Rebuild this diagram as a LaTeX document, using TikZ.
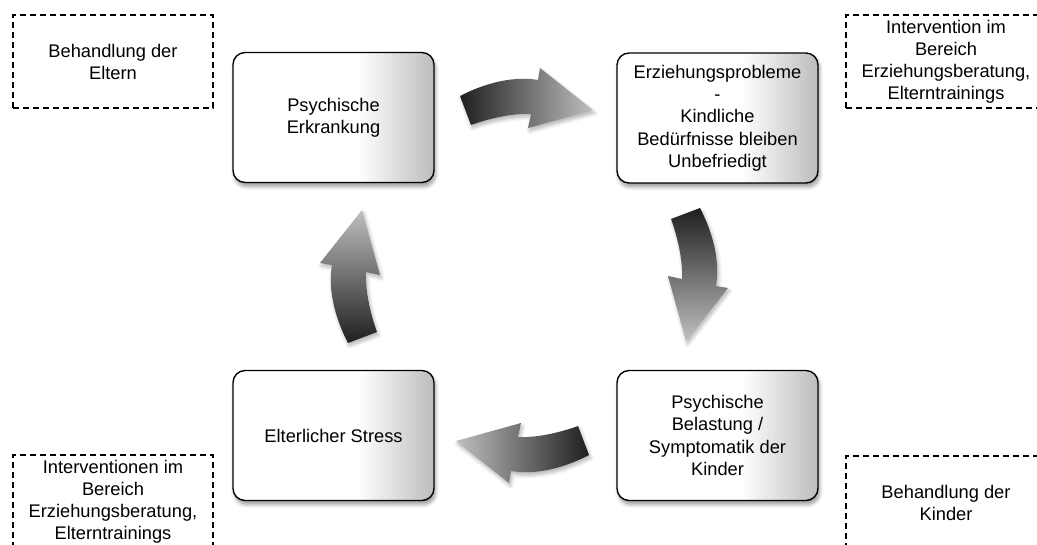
\documentclass[tikz,border=0pt]{standalone}
\usepackage{fontspec}
\setmainfont{Liberation Sans}
\usetikzlibrary{calc}
\usetikzlibrary{shadows.blur}
\pgfdeclarehorizontalshading{boxfade}{100bp}{color(0bp)=(white); color(56bp)=(white); color(75bp)=(black!26); color(100bp)=(black!26)}
\tikzset{
  cbox/.style= {draw, thick, rounded corners=0.24cm, shade, shading=boxfade, minimum width=4.02cm, minimum height=2.6cm, inner sep=0, align=center, font=\fontsize{10.4}{12.7}\selectfont, blur shadow={shadow xshift=0.03cm, shadow yshift=-0.08cm, shadow blur steps=6, shadow opacity=40}},
  dbox/.style= {draw, line width=0.7pt, dash pattern=on 0.12cm off 0.08cm, minimum width=4cm, minimum height=1.86cm, inner sep=0, align=center, font=\fontsize{10.4}{12.5}\selectfont},
  blockarrow/.pic= {
    \shade [#1, blur shadow={shadow xshift=0.03cm, shadow yshift=-0.06cm, shadow blur steps=5, shadow opacity=30}]
      (-67,-2) .. controls (-40,-16) and (-12,-22) .. (11,-18) -- (13,-30) -- (66,12) -- (1,30) -- (4,16)
      .. controls (-13,15) and (-37,20) .. (-56,27) -- cycle ;
  },
}

\begin{document}
\begin{tikzpicture}[x=0.02cm, y=-0.02cm]
  \useasboundingbox (0,0) rectangle (1037,544) ;
  \clip (0,0) rectangle (1037,544) ;

  \node [cbox] (pe) at (333.5,117.5) {Psychische\\Erkrankung} ;
  \node [cbox] (ep) at (717.5,118) {Erziehungsprobleme\\-\\Kindliche\\Bedürfnisse bleiben\\Unbefriedigt} ;
  \node [cbox] (bk) at (717.5,435.5) {Psychische\\Belastung /\\Symptomatik der\\Kinder} ;
  \node [cbox] (es) at (333.5,435.5) {Elterlicher Stress} ;

  \node [dbox] (he) at (113,61.5) {Behandlung der\\Eltern} ;
  \node [dbox] (ie) at (946,61.5) {Intervention im\\Bereich\\Erziehungsberatung,\\Elterntrainings} ;
  \node [dbox] (ik) at (113,501.5) {Interventionen im\\Bereich\\Erziehungsberatung,\\Elterntrainings} ;
  \node [dbox] (hk) at (946,502.5) {Behandlung der\\Kinder} ;

  % curved arrows between the boxes
  \pic at ($(pe)!0.5!(ep)+(1.5,-19.75)$) {blockarrow={left color=black!88, right color=black!25}} ;
  \pic [rotate=-90] at ($(ep)!0.5!(bk)+(-19.5,-1.75)$) {blockarrow={top color=black!88, bottom color=black!25}} ;
  \pic [rotate=180] at ($(bk)!0.5!(es)+(-3.5,17.5)$) {blockarrow={right color=black!88, left color=black!25}} ;
  \pic [rotate=90] at ($(es)!0.5!(pe)+(16.5,-0.5)$) {blockarrow={bottom color=black!88, top color=black!25}} ;
\end{tikzpicture}
\end{document}
